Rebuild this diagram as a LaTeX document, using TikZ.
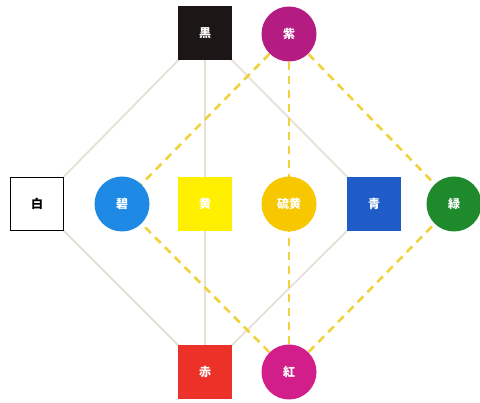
\documentclass[tikz,border=0pt]{standalone}
\usepackage{fontspec}
\newfontfamily\cjk{Noto Sans CJK JP}
\definecolor{cBlack}{HTML}{1C1616}
\definecolor{cMurasaki}{HTML}{B41C82}
\definecolor{cHeki}{HTML}{1E8AE6}
\definecolor{cKi}{HTML}{FFF000}
\definecolor{cIou}{HTML}{F7C800}
\definecolor{cAo}{HTML}{1F5CC8}
\definecolor{cRyoku}{HTML}{1E8A2C}
\definecolor{cAka}{HTML}{EC3228}
\definecolor{cBeni}{HTML}{D21E8A}
\definecolor{cLine}{HTML}{E6E1D7}
\definecolor{cDash}{HTML}{F2D23C}
\tikzset{
  sq/.style={draw=none, minimum size=54pt, inner sep=0pt, text=white, font=\cjk\bfseries\fontsize{12}{12}\selectfont},
  ci/.style={circle, draw=none, minimum size=55pt, inner sep=0pt, text=white, font=\cjk\bfseries\fontsize{12}{12}\selectfont},
  solidln/.style={draw=cLine, line width=1.8pt},
  dashln/.style={draw=cDash, line width=2.6pt, dash pattern=on 8pt off 6pt}
}
\begin{document}
\begin{tikzpicture}[x=1pt,y=-1pt]
\useasboundingbox[fill=white] (0,0) rectangle (480,403);
% node positions (coordinates)
\coordinate (pKuro) at (205,33);
\coordinate (pMura) at (289,34);
\coordinate (pShiro) at (37,204);
\coordinate (pHeki) at (122,204);
\coordinate (pKi) at (205,204);
\coordinate (pIou) at (289,204);
\coordinate (pAo) at (374,204);
\coordinate (pRyoku) at (454,204);
\coordinate (pAka) at (205,372);
\coordinate (pBeni) at (289,372);
% connectors (behind)
\draw[solidln] (pKuro) -- (pShiro);
\draw[solidln] (pKuro) -- (pKi);
\draw[solidln] (pKuro) -- (pAo);
\draw[solidln] (pAka) -- (pShiro);
\draw[solidln] (pAka) -- (pKi);
\draw[solidln] (pAka) -- (pAo);
\draw[dashln] (pMura) -- (pHeki);
\draw[dashln] (pMura) -- (pIou);
\draw[dashln] (pMura) -- (pRyoku);
\draw[dashln] (pBeni) -- (pHeki);
\draw[dashln] (pBeni) -- (pIou);
\draw[dashln] (pBeni) -- (pRyoku);
% nodes
\node[sq, fill=cBlack] (kuro) at (pKuro) {黒};
\node[ci, fill=cMurasaki] (mura) at (pMura) {紫};
\node[sq, fill=white, draw=black, line width=1.3pt, text=black, minimum size=53pt] (shiro) at (pShiro) {白};
\node[ci, fill=cHeki] (heki) at (pHeki) {碧};
\node[sq, fill=cKi] (ki) at (pKi) {黄};
\node[ci, fill=cIou] (iou) at (pIou) {硫黄};
\node[sq, fill=cAo] (ao) at (pAo) {青};
\node[ci, fill=cRyoku] (ryoku) at (pRyoku) {緑};
\node[sq, fill=cAka] (aka) at (pAka) {赤};
\node[ci, fill=cBeni] (beni) at (pBeni) {紅};
\end{tikzpicture}
\end{document}
